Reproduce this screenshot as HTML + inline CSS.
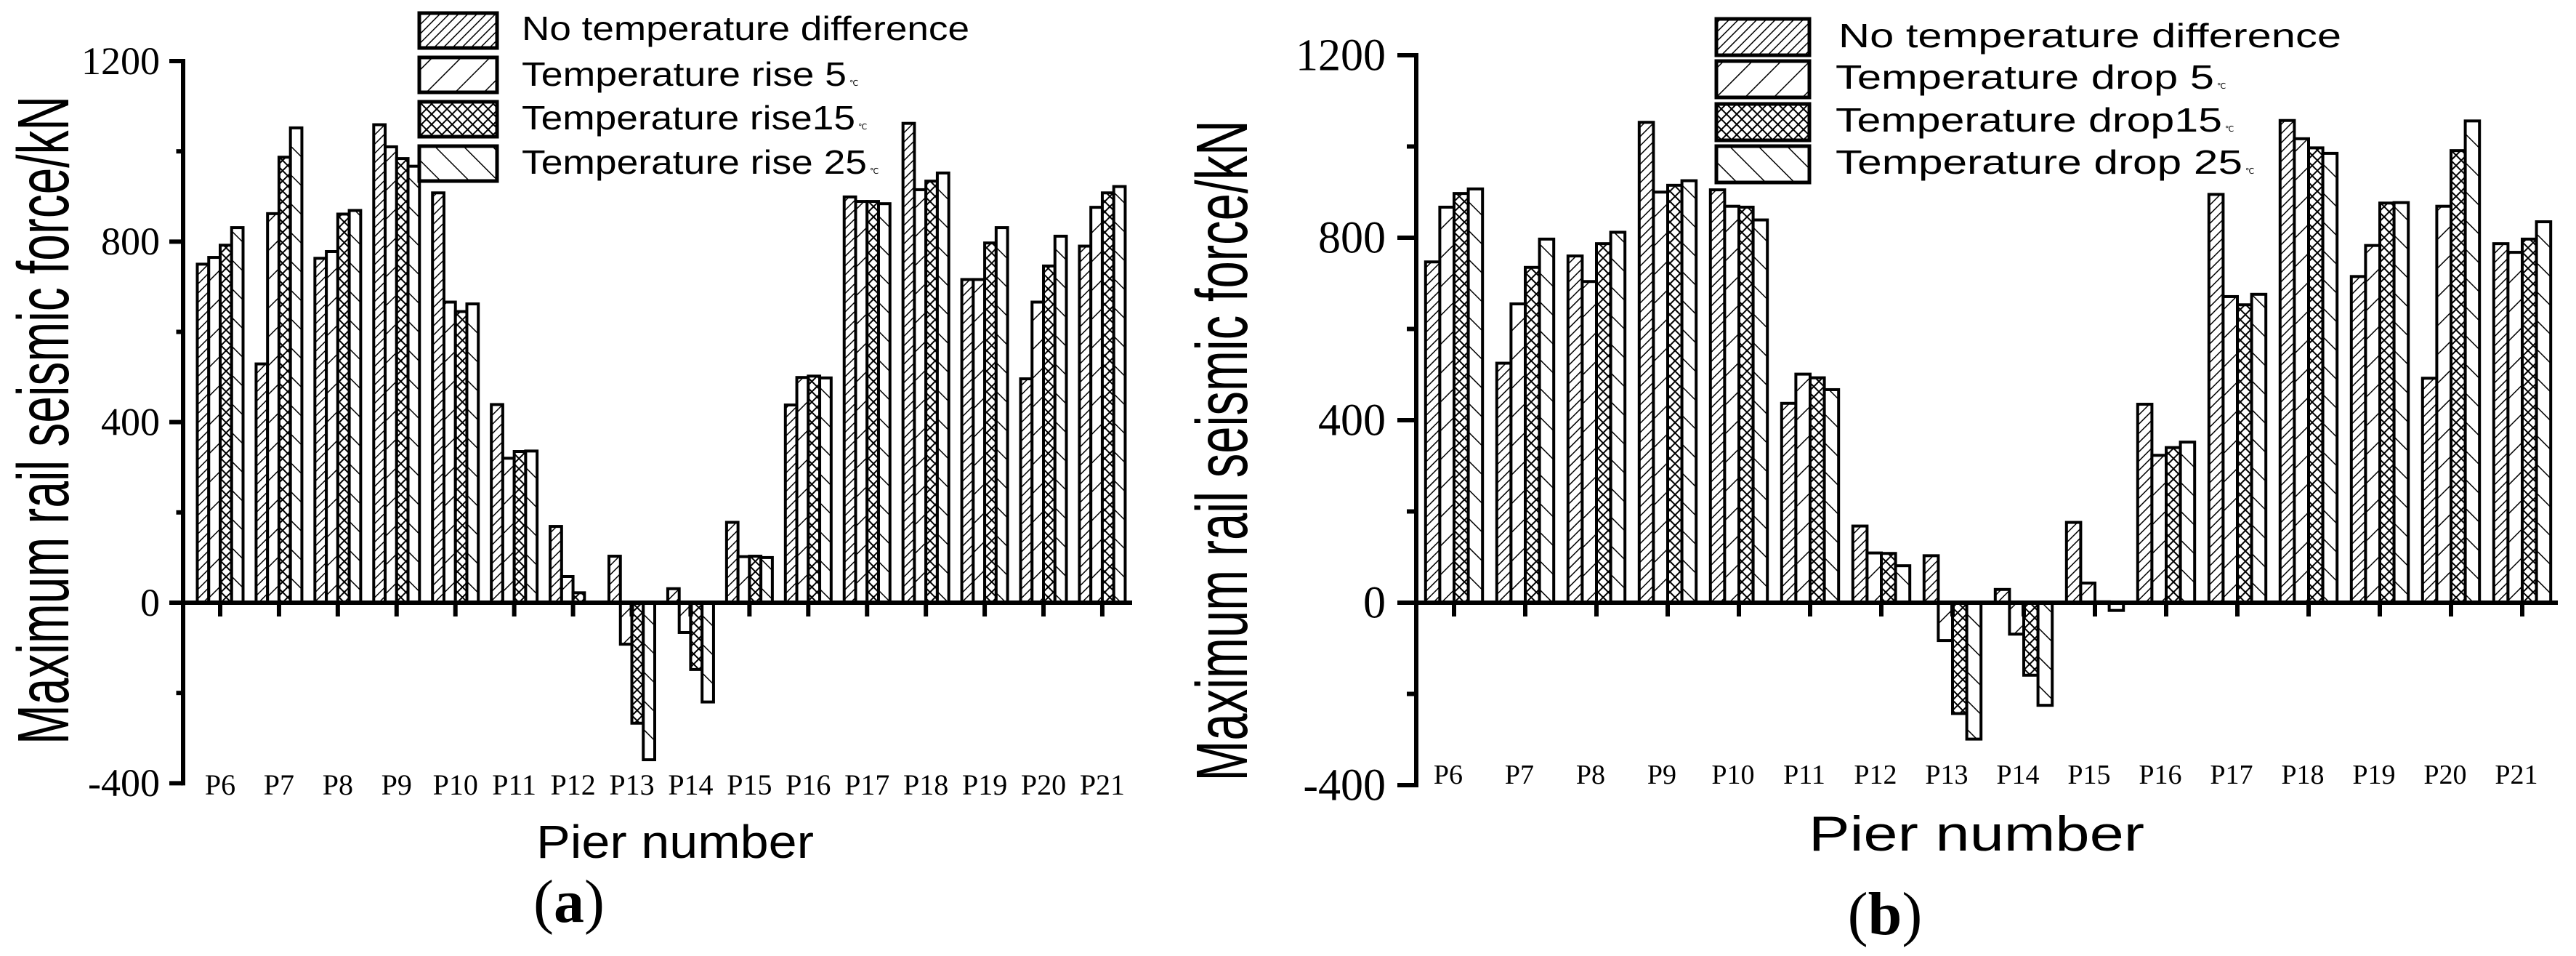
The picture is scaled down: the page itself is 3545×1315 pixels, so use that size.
<!DOCTYPE html>
<html><head><meta charset="utf-8"><style>
html,body{margin:0;padding:0;background:#fff;}
svg{display:block;}
</style></head>
<body>
<svg id="chart" xmlns="http://www.w3.org/2000/svg" width="3545" height="1315" viewBox="0 0 3545 1315">
<defs>
<pattern id="p1" patternUnits="userSpaceOnUse" width="9" height="9" patternTransform="rotate(45)"><rect width="9" height="9" fill="#fff"/><line x1="0" y1="0" x2="0" y2="9" stroke="#000" stroke-width="3"/></pattern>
<pattern id="p2" patternUnits="userSpaceOnUse" width="28" height="28" patternTransform="rotate(45)"><rect width="28" height="28" fill="#fff"/><line x1="0" y1="0" x2="0" y2="28" stroke="#000" stroke-width="3"/></pattern>
<pattern id="p3" patternUnits="userSpaceOnUse" width="10" height="10" patternTransform="rotate(45)"><rect width="10" height="10" fill="#fff"/><line x1="0" y1="0" x2="0" y2="10" stroke="#000" stroke-width="4"/><line x1="0" y1="0" x2="10" y2="0" stroke="#000" stroke-width="4"/></pattern>
<pattern id="p4" patternUnits="userSpaceOnUse" width="28" height="28" patternTransform="rotate(-45)"><rect width="28" height="28" fill="#fff"/><line x1="0" y1="0" x2="0" y2="28" stroke="#000" stroke-width="3"/></pattern>
</defs>
<g id="root"></g>
</svg>
<script>
const categories = ["P6","P7","P8","P9","P10","P11","P12","P13","P14","P15","P16","P17","P18","P19","P20","P21"];
const yTicks = [-400, 0, 400, 800, 1200];
const yMinorTicks = [-200, 200, 600, 1000];
const riseNone = [750,529,763,1059,908,439,169,103,31,178,438,899,1062,716,496,790];
const rise5 = [765,862,778,1010,666,320,58,-92,-66,102,499,889,915,716,666,876];
const rise15 = [792,987,861,984,645,335,22,-267,-148,103,502,889,934,797,746,908];
const rise25 = [831,1052,869,967,662,336,0,-348,-220,100,498,884,952,831,812,922];
const dropNone = [747,525,760,1053,905,437,168,103,29,176,435,895,1057,715,492,787];
const drop5 = [867,655,704,900,869,501,109,-83,-69,43,323,671,1017,783,869,768];
const drop15 = [897,735,787,915,867,493,108,-243,-159,2,340,653,997,876,991,797];
const drop25 = [907,797,812,925,839,467,81,-299,-225,-17,352,676,985,877,1056,835];
const legendA = ["No temperature difference","Temperature rise 5","Temperature rise15","Temperature rise 25"];
const legendB = [" No temperature difference","Temperature drop 5","Temperature drop15","Temperature drop 25"];

const NS = "http://www.w3.org/2000/svg";
const root = document.getElementById("root");
function mk(tag, attrs, parent, text){
  const e = document.createElementNS(NS, tag);
  for (const k in attrs) e.setAttribute(k, attrs[k]);
  if (text !== undefined) e.textContent = text;
  (parent || root).appendChild(e);
  return e;
}
const pats = ["url(#p1)","url(#p2)","url(#p3)","url(#p4)"];

function panel(c){
  const g = mk("g", {});
  
  
  const y = v => c.zeroY - v * c.ppu;
  const x = i => c.tick0 + i * c.step;
  c.series.forEach((s, si) => {
    s.forEach((v, i) => {
      const bx = x(i) - 2 * c.barW + si * c.barW;
      const top = Math.min(y(v), y(0)), h = Math.abs(y(v) - y(0));
      const r = mk("rect", {x: bx, y: top, width: c.barW, height: Math.max(h, 0.5), fill: pats[si], stroke: "#000", "stroke-width": 4}, g);
      
      
    });
  });
  const ya = mk("line", {x1: c.axisX, y1: y(1200) - 3, x2: c.axisX, y2: y(-400) + 3, stroke: "#000", "stroke-width": 6}, g);
  
  
  yTicks.forEach(t => {
    mk("line", {x1: c.axisX - c.tickLen, y1: y(t), x2: c.axisX, y2: y(t), stroke: "#000", "stroke-width": 6}, g);
    const tl = mk("text", {x: c.labelRight, y: y(t) + c.tickFont * 0.33, "text-anchor": "end", "font-family": "Liberation Serif, serif", "font-size": c.tickFont}, g, String(t));
    
    
  });
  yMinorTicks.forEach(t => {
    mk("line", {x1: c.axisX - c.tickLen * 0.5, y1: y(t), x2: c.axisX, y2: y(t), stroke: "#000", "stroke-width": 6}, g);
  });
  const xa = mk("line", {x1: c.axisX, y1: y(0), x2: c.axisEnd, y2: y(0), stroke: "#000", "stroke-width": 6}, g);
  
  
  categories.forEach((cat, i) => {
    mk("line", {x1: x(i), y1: y(0), x2: x(i), y2: y(0) + 19, stroke: "#000", "stroke-width": 6}, g);
    const t = mk("text", {x: x(i) + c.catDx, y: c.catY, "text-anchor": "middle", "font-family": "Liberation Serif, serif", "font-size": c.catFont}, g, cat);
    
    
  });
  c.legend.forEach((lab, i) => {
    const ry = c.legY[i];
    const b = mk("rect", {x: c.legX, y: ry, width: c.legW, height: c.legH, fill: pats[i], stroke: "#000", "stroke-width": 5}, g);
    
    
    const t = mk("text", {x: c.legTextX[i], y: c.legBase[i], "font-family": "Liberation Sans, sans-serif", "font-size": c.legFont, textLength: c.legLen[i], lengthAdjust: "spacingAndGlyphs"}, g, lab);
    
    
    if (i > 0) mk("text", {x: c.legTextX[i] + c.legLen[i] + 4, y: c.legBase[i], "font-family": "Liberation Sans, DejaVu Sans, sans-serif", "font-size": 11}, g, "℃");
  });
  const yt = mk("text", {transform: "translate(" + c.ytX + "," + c.ytY + ") rotate(-90)", "text-anchor": "middle", "font-family": "Liberation Sans, sans-serif", "font-size": c.ytFont, textLength: c.ytLen, lengthAdjust: "spacingAndGlyphs"}, g, "Maximum rail seismic force/kN");
  
  
  const xt = mk("text", {x: c.xtX, y: c.xtY, "text-anchor": "middle", "font-family": "Liberation Sans, sans-serif", "font-size": c.xtFont, textLength: c.xtLen, lengthAdjust: "spacingAndGlyphs"}, g, "Pier number");
  
  
  const cap = mk("text", {x: c.capX, y: c.capY, "text-anchor": "middle", "font-family": "Liberation Serif, serif", "font-size": 84}, g);
  
  
  mk("tspan", {}, cap, "(");
  mk("tspan", {"font-weight": "bold"}, cap, c.key);
  mk("tspan", {}, cap, ")");
}

panel({name: "panel-a-temperature-rise", key: "a", series: [riseNone, rise5, rise15, rise25], legend: legendA,
  zeroY: 829, ppu: 745/1200, axisX: 252, axisEnd: 1558, tick0: 303, step: 80.93, barW: 15.75,
  tickLen: 19, labelRight: 220, tickFont: 54, catDx: 0, catY: 1093, catFont: 40,
  legX: 577, legW: 107, legH: 48, legY: [18, 79, 140, 201], legTextX: [718, 718, 718, 718],
  legBase: [55, 118, 178, 239], legFont: 46, legLen: [616, 447, 459, 475],
  ytX: 94, ytY: 578, ytFont: 100, ytLen: 892, xtX: 929, xtY: 1180, xtFont: 64, xtLen: 382,
  capX: 783, capY: 1268});

panel({name: "panel-b-temperature-drop", key: "b", series: [dropNone, drop5, drop15, drop25], legend: legendB,
  zeroY: 829, ppu: 753/1200, axisX: 1949, axisEnd: 3520, tick0: 2001, step: 98, barW: 19.6,
  tickLen: 26, labelRight: 1907, tickFont: 62, catDx: -8, catY: 1078, catFont: 38,
  legX: 2362, legW: 128, legH: 50, legY: [26, 84, 143, 201], legTextX: [2530, 2526, 2526, 2526],
  legBase: [65, 122, 181, 239], legFont: 46, legLen: [692, 521, 532, 560],
  ytX: 1716, ytY: 620, ytFont: 100, ytLen: 909, xtX: 2720, xtY: 1170, xtFont: 68, xtLen: 462,
  capX: 2594, capY: 1285});
</script>
</body></html>
